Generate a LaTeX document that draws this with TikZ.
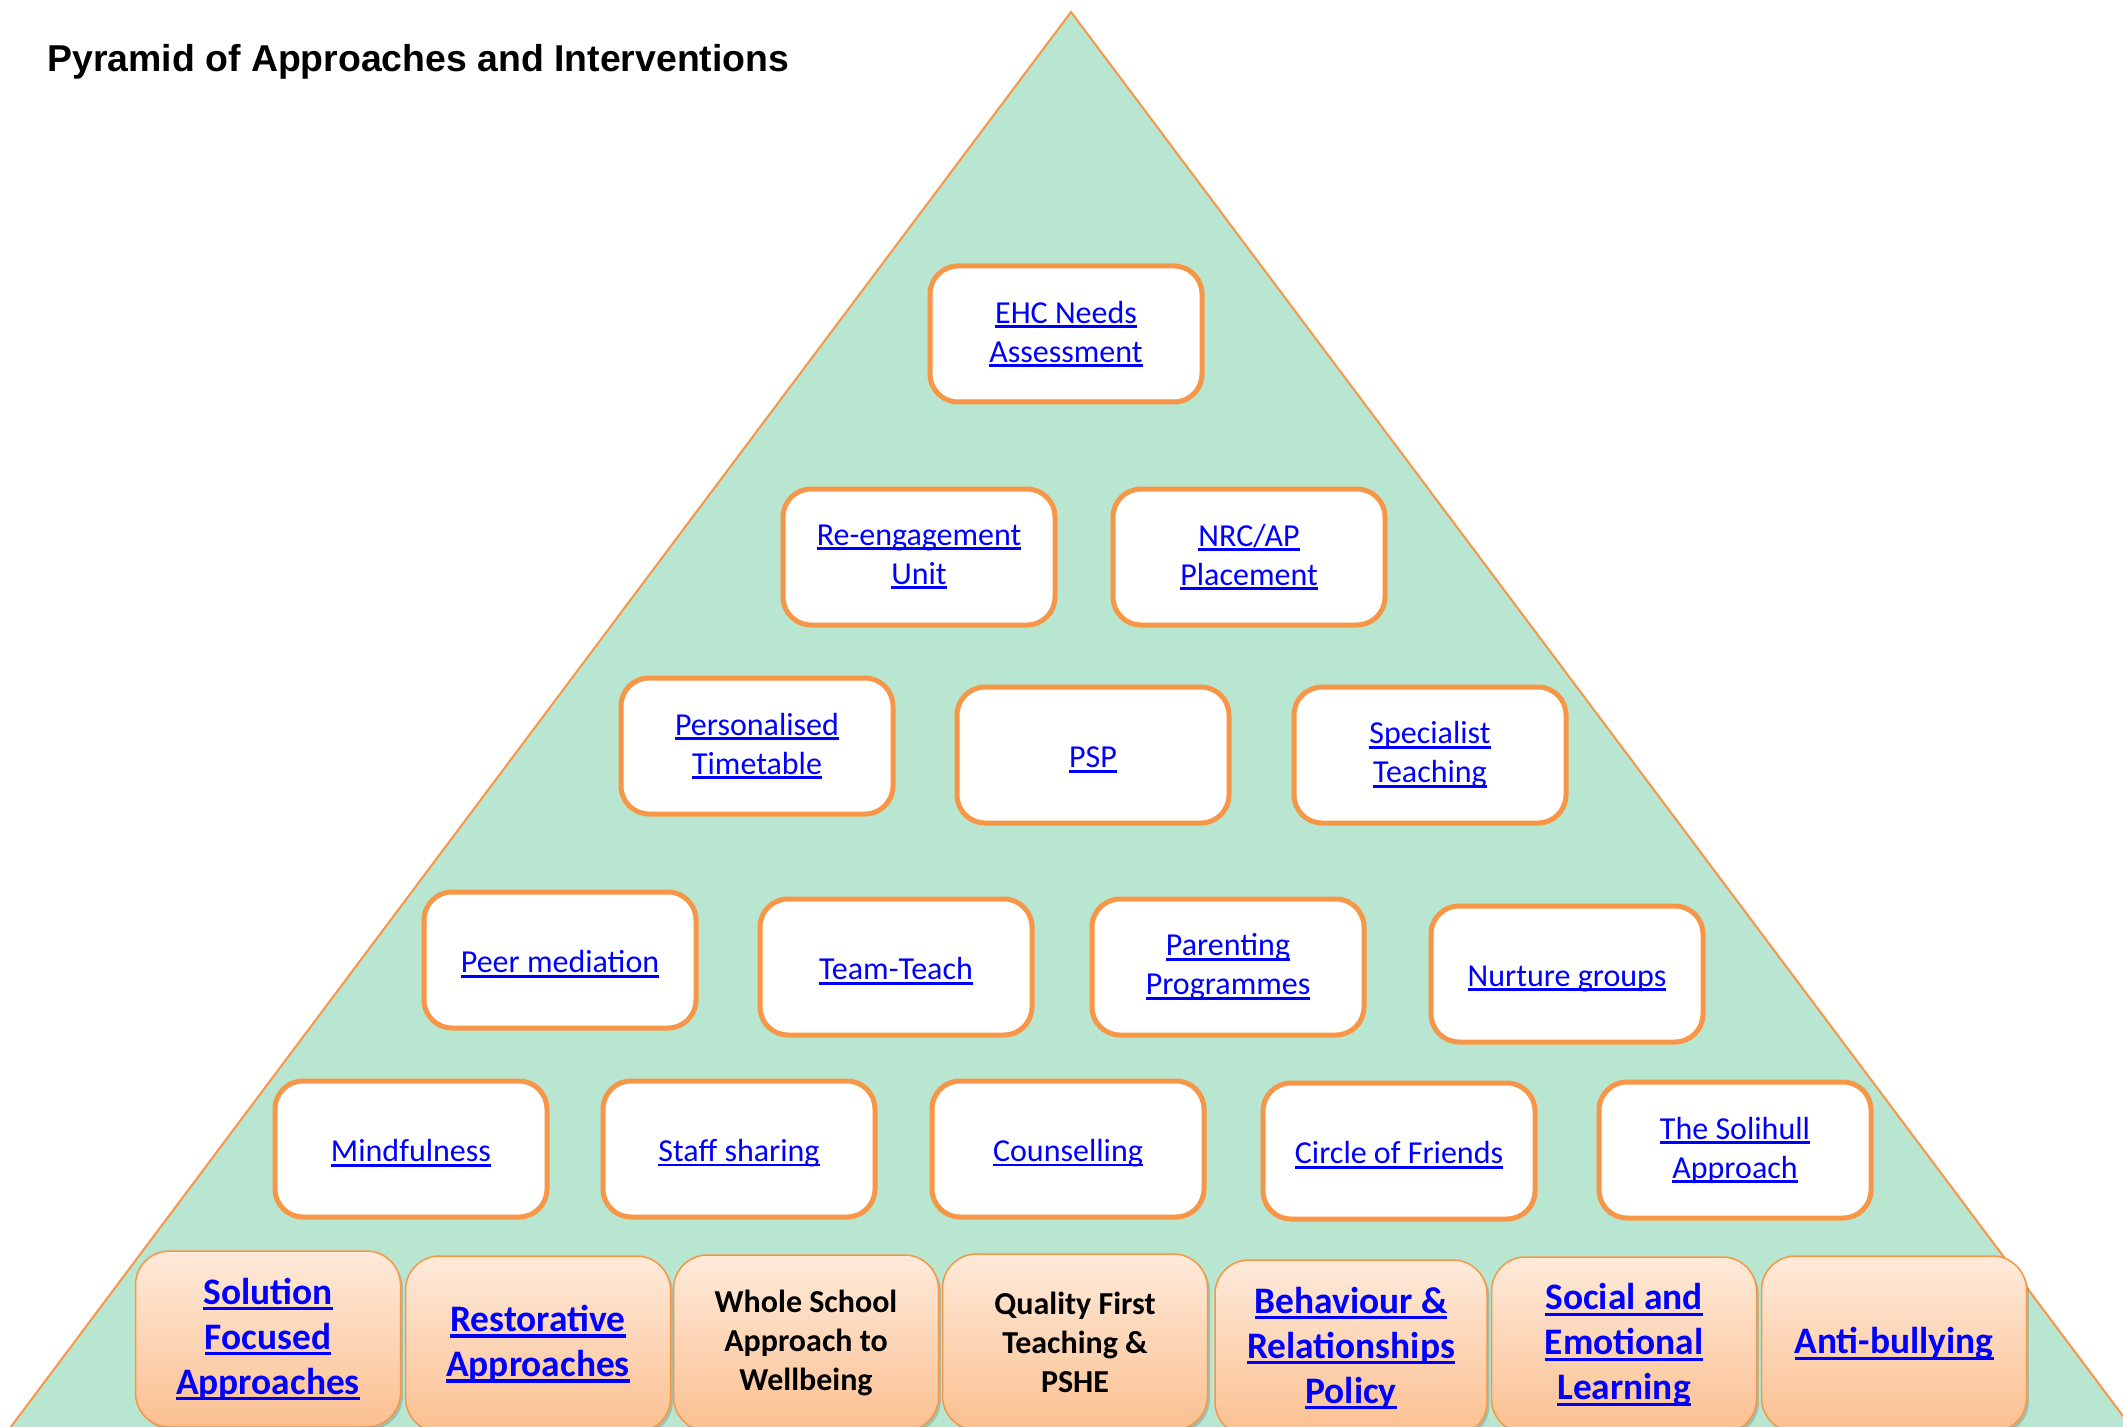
\documentclass[tikz,border=0pt]{standalone}
\usepackage{fontspec}
\setmainfont{Carlito}
\newfontfamily\titlefont{Liberation Sans}
\usetikzlibrary{shadows}
\definecolor{pyrgreen}{RGB}{185,230,208}
\definecolor{pyrorange}{RGB}{247,150,70}
\definecolor{peachtop}{RGB}{254,234,218}
\definecolor{peachbot}{RGB}{251,192,144}
\definecolor{linkblue}{RGB}{0,0,255}
% underlined link text
\newcommand\lnk[1]{\setbox0\hbox{#1}\rlap{\rule[-0.16em]{\wd0}{0.09em}}\box0}
\tikzset{
  tierbox/.style={draw=pyrorange, line width=2.5pt, fill=white, rounded corners=14pt,
    minimum width=136pt, minimum height=68pt, align=center, text=linkblue,
    font=\fontsize{16}{19.5}\selectfont, execute at begin node={\rule{0pt}{15pt}}},
  basebox/.style={draw=pyrorange, line width=0.75pt, top color=peachtop, bottom color=peachbot,
    rounded corners=17pt, minimum width=132.5pt, minimum height=88pt, align=center,
    drop shadow={shadow xshift=1.2pt, shadow yshift=-1.5pt, opacity=0.3, fill=black!60}},
  baselink/.style={text=linkblue, font=\fontsize{18.7}{22.5}\selectfont\bfseries},
  baseplain/.style={text=black, font=\fontsize{16}{19.5}\selectfont\bfseries}
}
\begin{document}
\begin{tikzpicture}[x=0.5pt,y=-0.5pt]
\useasboundingbox (0,0) rectangle (2123,1427);
% pyramid
\draw[pyrorange, line width=1pt, fill=pyrgreen] (1071,12) -- (2141,1440) -- (1,1440) -- cycle;
\node[anchor=base west, inner sep=0pt, font=\titlefont\fontsize{18.7}{22}\selectfont\bfseries] (title) at (47,72) {Pyramid of Approaches and Interventions};
% top tiers
\node[tierbox] (ehc) at (1066,334) {\lnk{EHC Needs}\\\lnk{Assessment}};
\node[tierbox] (reeng) at (919,557) {\lnk{Re-engagement}\\\lnk{Unit}};
\node[tierbox] (nrc) at (1249,557) {\lnk{NRC/AP}\\\lnk{Placement}};
\node[tierbox] (pers) at (757,746) {\lnk{Personalised}\\\lnk{Timetable}};
\node[tierbox] (psp) at (1093,755) {\lnk{PSP}};
\node[tierbox] (spec) at (1430,755) {\lnk{Specialist}\\\lnk{Teaching}};
\node[tierbox] (peer) at (560,960) {\lnk{Peer mediation}};
\node[tierbox] (team) at (896,967) {\lnk{Team-Teach}};
\node[tierbox] (parent) at (1228,967) {\lnk{Parenting}\\\lnk{Programmes}};
\node[tierbox] (nurture) at (1567,974) {\lnk{Nurture groups}};
\node[tierbox] (mind) at (411,1149) {\lnk{Mindfulness}};
\node[tierbox] (staff) at (739,1149) {\lnk{Staff sharing}};
\node[tierbox] (couns) at (1068,1149) {\lnk{Counselling}};
\node[tierbox] (circle) at (1399,1151) {\lnk{Circle of Friends}};
\node[tierbox] (soli) at (1735,1150) {\lnk{The Solihull}\\\lnk{Approach}};
% base row
\node[basebox, baselink] (sfa) at (268,1339) {\lnk{Solution}\\\lnk{Focused}\\\lnk{Approaches}};
\node[basebox, baselink] (ra) at (538,1344) {\lnk{Restorative}\\\lnk{Approaches}};
\node[basebox, baseplain] (wsa) at (806,1343) {Whole School\\Approach to\\Wellbeing};
\node[basebox, baseplain] (qft) at (1075,1342) {Quality First\\Teaching \&\\PSHE};
\node[basebox, baselink, minimum width=136pt] (brp) at (1351,1348) {\lnk{Behaviour \&}\\\lnk{Relationships}\\\lnk{Policy}};
\node[basebox, baselink] (sel) at (1624,1345) {\lnk{Social and}\\\lnk{Emotional}\\\lnk{Learning}};
\node[basebox, baselink] (ab) at (1894,1344) {\lnk{Anti-bullying}};
\end{tikzpicture}
\end{document}
